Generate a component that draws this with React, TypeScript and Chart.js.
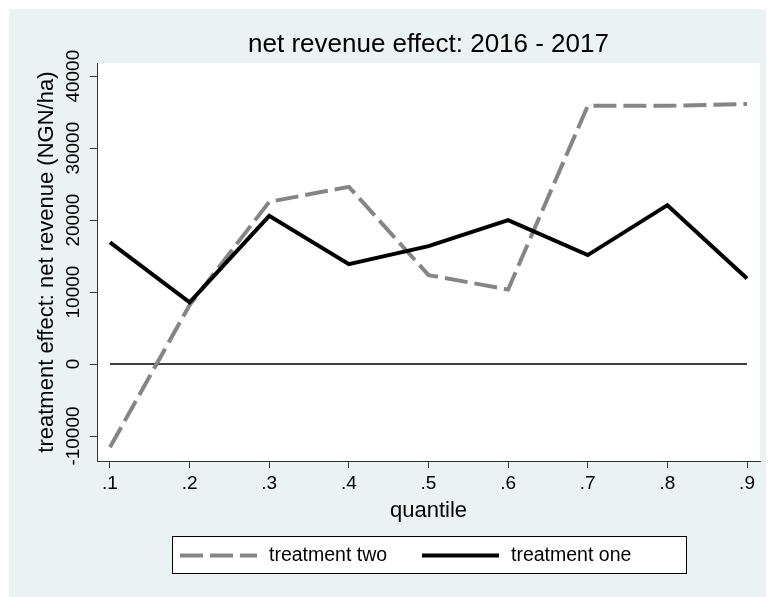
import React, { useEffect, useRef } from 'react';
import { Chart, registerables } from 'chart.js';

Chart.register(...registerables);

// Quantile positions and their axis labels
const quantiles = [0.1, 0.2, 0.3, 0.4, 0.5, 0.6, 0.7, 0.8, 0.9];
const quantileLabels = ['.1', '.2', '.3', '.4', '.5', '.6', '.7', '.8', '.9'];

// Estimated treatment effects on net revenue (NGN/ha)
const treatmentOne = [16900, 8570, 20600, 13890, 16390, 20000, 15140, 22080, 11900];
const treatmentTwo = [-11570, 8200, 22540, 24630, 12360, 10370, 35880, 35880, 36150];

const yTicks = [-10000, 0, 10000, 20000, 30000, 40000];
const seriesNames = ['treatment one', 'treatment two'];

const titleText = 'net revenue effect: 2016 - 2017';
const xTitle = 'quantile';
const yTitle = 'treatment effect: net revenue (NGN/ha)';

const FONT = "'Liberation Sans', Arial, Helvetica, sans-serif";
const BG = '#eaf2f3';
const AXIS = '#333333';
const GREY = '#858585';

// Paints the outer graph region and the white plot region
const backdrop = {
  id: 'backdrop',
  beforeDraw(chart: any) {
    const { ctx, width, height, chartArea: a } = chart;
    ctx.save();
    ctx.fillStyle = '#ffffff';
    ctx.fillRect(0, 0, width, height);
    ctx.fillStyle = BG;
    ctx.fillRect(1, 1, width - 1, height - 1);
    ctx.fillStyle = '#ffffff';
    ctx.fillRect(a.left, a.top, a.right - a.left, a.bottom - a.top);
    ctx.restore();
  },
};

// Vertical tick labels on the y axis, centred on each tick
const yTickLabels = {
  id: 'yTickLabels',
  afterDraw(chart: any) {
    const { ctx } = chart;
    const s = chart.scales.y;
    ctx.save();
    ctx.font = `19px ${FONT}`;
    ctx.fillStyle = '#000000';
    ctx.textAlign = 'center';
    ctx.textBaseline = 'middle';
    for (const v of yTicks) {
      const py = s.getPixelForValue(v);
      ctx.save();
      ctx.translate(s.right - 23, py);
      ctx.rotate(-Math.PI / 2);
      ctx.fillText(String(v), 0, 0);
      ctx.restore();
    }
    ctx.restore();
  },
};

// Boxed legend below the axis title: dashed key first, then solid
const keyLegend = {
  id: 'keyLegend',
  afterDraw(chart: any) {
    const { ctx, chartArea: a } = chart;
    const w = 514;
    const h = 37;
    const left = Math.round((a.left + a.right) / 2 - w / 2);
    const top = Math.round(a.bottom + 75);
    ctx.save();
    ctx.fillStyle = '#ffffff';
    ctx.fillRect(left, top, w, h);
    ctx.strokeStyle = '#000000';
    ctx.lineWidth = 1;
    ctx.strokeRect(left + 0.5, top + 0.5, w, h);
    const cy = top + h / 2 + 1;
    const items = [
      { index: 1, keyX: 8, textX: 97 },
      { index: 0, keyX: 250, textX: 339 },
    ];
    for (const it of items) {
      const ds = chart.data.datasets[it.index];
      ctx.beginPath();
      ctx.strokeStyle = ds.borderColor;
      ctx.lineWidth = ds.borderWidth;
      ctx.lineCap = 'butt';
      ctx.setLineDash(ds.borderDash || []);
      ctx.moveTo(left + it.keyX, cy);
      ctx.lineTo(left + it.keyX + 77, cy);
      ctx.stroke();
      ctx.setLineDash([]);
      ctx.fillStyle = '#000000';
      ctx.font = `19.5px ${FONT}`;
      ctx.textAlign = 'left';
      ctx.textBaseline = 'middle';
      ctx.fillText(ds.label, left + it.textX, cy);
    }
    ctx.restore();
  },
};

export default function App() {
  const canvasRef = useRef<HTMLCanvasElement | null>(null);

  useEffect(() => {
    const canvas = canvasRef.current;
    if (!canvas) return;

    const chart = new Chart(canvas, {
      type: 'line',
      data: {
        datasets: [
          {
            label: seriesNames[0],
            data: quantiles.map((q, i) => ({ x: q, y: treatmentOne[i] })),
            borderColor: '#000000',
            borderWidth: 4,
            pointRadius: 0,
            tension: 0,
            fill: false,
          },
          {
            label: seriesNames[1],
            data: quantiles.map((q, i) => ({ x: q, y: treatmentTwo[i] })),
            borderColor: GREY,
            borderWidth: 4,
            borderDash: [23, 7],
            pointRadius: 0,
            tension: 0,
            fill: false,
          },
          {
            label: 'zero',
            data: [
              { x: quantiles[0], y: 0 },
              { x: quantiles[quantiles.length - 1], y: 0 },
            ],
            borderColor: '#000000',
            borderWidth: 1.5,
            pointRadius: 0,
            fill: false,
          },
        ],
      },
      options: {
        responsive: false,
        animation: false,
        layout: { padding: { left: 1, right: 14, top: 0, bottom: 72 } },
        plugins: {
          legend: { display: false },
          tooltip: { enabled: false },
          title: {
            display: true,
            text: titleText,
            fullSize: false,
            color: '#000000',
            font: { family: FONT, size: 26, weight: 'normal' },
            padding: { top: 21, bottom: 3 },
          },
        },
        scales: {
          x: {
            type: 'linear',
            min: 0.0837,
            max: 0.9163,
            afterBuildTicks: (s: any) => {
              s.ticks = quantiles.map((v) => ({ value: v }));
            },
            afterFit: (s: any) => {
              s.height = 64;
            },
            ticks: {
              callback: (_v: any, i: number) => quantileLabels[i],
              color: '#000000',
              font: { family: FONT, size: 19 },
              padding: 4,
              maxRotation: 0,
              minRotation: 0,
              autoSkip: false,
            },
            grid: {
              drawOnChartArea: false,
              drawTicks: true,
              tickLength: 7,
              color: AXIS,
              tickColor: AXIS,
            },
            border: { display: true, color: AXIS, width: 1 },
            title: {
              display: true,
              text: xTitle,
              color: '#000000',
              font: { family: FONT, size: 22 },
              padding: { top: 0, bottom: 1 },
            },
          },
          y: {
            type: 'linear',
            min: -13472,
            max: 41806,
            afterBuildTicks: (s: any) => {
              s.ticks = yTicks.map((v) => ({ value: v }));
            },
            afterFit: (s: any) => {
              s.width = 88;
            },
            ticks: { display: false },
            grid: {
              drawOnChartArea: false,
              drawTicks: true,
              tickLength: 7,
              color: AXIS,
              tickColor: AXIS,
            },
            border: { display: true, color: AXIS, width: 1 },
            title: {
              display: true,
              text: yTitle,
              color: '#000000',
              font: { family: FONT, size: 22 },
              padding: { top: 25, bottom: 0 },
            },
          },
        },
      },
      plugins: [backdrop, yTickLabels, keyLegend],
    });

    return () => chart.destroy();
  }, []);

  return <canvas ref={canvasRef} width={766} height={589} style={{ display: 'block' }} />;
}
